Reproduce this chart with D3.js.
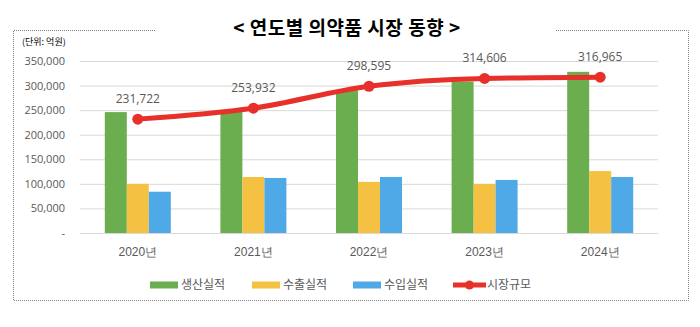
<!DOCTYPE html>
<html>
<head>
<meta charset="utf-8">
<script src="https://cdn.jsdelivr.net/npm/d3@7/dist/d3.min.js"></script>
<style>
  html, body { margin: 0; padding: 0; background: #fff; }
  svg { display: block; font-family: "Noto Sans CJK KR", "Noto Sans", sans-serif; }
</style>
</head>
<body>
<svg id="chart" width="700" height="327"></svg>
<script>
// 연도별 의약품 시장 동향 (단위: 억원)
const years = ["2020년", "2021년", "2022년", "2023년", "2024년"];
const production = [246000, 249000, 290000, 308000, 328000];   // 생산실적
const exportsVal = [100000, 114000, 104000, 100000, 126000];   // 수출실적
const importsVal = [84000, 112000, 114000, 108000, 114000];    // 수입실적
const marketSize = [231722, 253932, 298595, 314606, 316965];   // 시장규모
const yTicks = [0, 50000, 100000, 150000, 200000, 250000, 300000, 350000];

const barSeries = [
  { name: "생산실적", values: production, color: "#6aae4f" },
  { name: "수출실적", values: exportsVal, color: "#f5c142" },
  { name: "수입실적", values: importsVal, color: "#4fa9e6" }
];
const lineColor = "#e8302a";
const textColor = "#595959";

const svg = d3.select("#chart");

// dotted frame, interrupted by the title
const frame = { left: 13, right: 688, top: 30, bottom: 300 };
const frameStyle = s => s.attr("fill", "none").attr("stroke", "#7f7f7f")
  .attr("stroke-width", 1).attr("stroke-dasharray", "1,1");
svg.append("path")
  .attr("d", `M155,${frame.top + 0.5}H${frame.left + 0.5}V${frame.bottom + 0.5}H${frame.right + 0.5}V${frame.top + 0.5}H555`)
  .call(frameStyle);

svg.append("text")
  .attr("x", 347).attr("y", 35)
  .attr("text-anchor", "middle")
  .attr("font-size", 19).attr("font-weight", "bold").attr("fill", "#000")
  .attr("letter-spacing", 0.5)
  .text("< 연도별 의약품 시장 동향 >");

svg.append("text")
  .attr("x", 22).attr("y", 45)
  .attr("font-size", 9).attr("fill", "#000")
  .text("(단위: 억원)");

// plot area
const plot = { left: 80, right: 658, top: 61, bottom: 233 };

const x = d3.scaleBand().domain(years).range([plot.left, plot.right]).paddingInner(0).paddingOuter(0);
const y = d3.scaleLinear().domain([0, 350000]).range([plot.bottom, plot.top]);

const groupWidth = 66;
const xSub = d3.scaleBand().domain(barSeries.map(s => s.name))
  .range([0, groupWidth]).padding(0);

// gridlines + tick labels
const yAxis = d3.axisLeft(y).tickValues(yTicks)
  .tickSize(-(plot.right - plot.left))
  .tickPadding(15)
  .tickFormat(d => d === 0 ? "-" : d3.format(",")(d));

const gy = svg.append("g")
  .attr("transform", `translate(${plot.left},0)`)
  .call(yAxis);
gy.select(".domain").remove();
gy.selectAll(".tick line").attr("stroke", "#d9d9d9").attr("stroke-width", 1);
gy.selectAll(".tick text")
  .attr("fill", textColor).attr("font-size", 11)
  .attr("font-family", "'Open Sans', 'Noto Sans', sans-serif");

// category labels
const xAxis = d3.axisBottom(x).tickSize(0).tickPadding(14);
const gx = svg.append("g")
  .attr("transform", `translate(0,${plot.bottom})`)
  .call(xAxis);
gx.select(".domain").remove();
gx.selectAll(".tick text").attr("fill", textColor).attr("font-size", 12);

// bars
const groups = svg.append("g").selectAll("g")
  .data(years)
  .join("g")
  .attr("transform", d => `translate(${x(d) + (x.bandwidth() - groupWidth) / 2},0)`);

groups.selectAll("rect")
  .data((d, i) => barSeries.map(s => ({ s, v: s.values[i] })))
  .join("rect")
  .attr("x", d => xSub(d.s.name))
  .attr("width", xSub.bandwidth())
  .attr("y", d => y(d.v))
  .attr("height", d => y(0) - y(d.v))
  .attr("fill", d => d.s.color);

// market size line
const cx = (d, i) => x(years[i]) + x.bandwidth() / 2;
const line = d3.line()
  .x(cx)
  .y(d => y(d))
  .curve(d3.curveMonotoneX);

svg.append("path")
  .datum(marketSize)
  .attr("d", line)
  .attr("fill", "none")
  .attr("stroke", lineColor)
  .attr("stroke-width", 5)
  .attr("stroke-linecap", "round");

svg.append("g").selectAll("circle")
  .data(marketSize)
  .join("circle")
  .attr("cx", cx)
  .attr("cy", d => y(d))
  .attr("r", 5.5)
  .attr("fill", lineColor);

svg.append("g").selectAll("text")
  .data(marketSize)
  .join("text")
  .attr("x", cx)
  .attr("y", d => y(d) - 16)
  .attr("text-anchor", "middle")
  .attr("font-size", 12)
  .attr("font-family", "'Open Sans', 'Noto Sans', sans-serif")
  .attr("fill", textColor)
  .text(d => d3.format(",")(d));

// legend
const legendItems = [
  ...barSeries.map(s => ({ name: s.name, color: s.color, type: "bar" })),
  { name: "시장규모", color: lineColor, type: "line" }
];
const legendX = [150, 252, 353, 453];
const legendY = 285;
const lg = svg.append("g").selectAll("g")
  .data(legendItems)
  .join("g")
  .attr("transform", (d, i) => `translate(${legendX[i]},${legendY})`);

lg.filter(d => d.type === "bar").append("rect")
  .attr("x", 0).attr("y", -3.5).attr("width", 28).attr("height", 7)
  .attr("fill", d => d.color);

const lineItems = lg.filter(d => d.type === "line");
lineItems.append("line")
  .attr("x1", 0).attr("x2", 33).attr("y1", 0).attr("y2", 0)
  .attr("stroke", d => d.color).attr("stroke-width", 5);
lineItems.append("circle")
  .attr("cx", 16.5).attr("cy", 0).attr("r", 4.5)
  .attr("fill", d => d.color);

lg.append("text")
  .attr("x", d => d.type === "line" ? 34 : 31)
  .attr("y", 0)
  .attr("dy", "0.35em")
  .attr("font-size", 12)
  .attr("fill", textColor)
  .text(d => d.name);
</script>
</body>
</html>
